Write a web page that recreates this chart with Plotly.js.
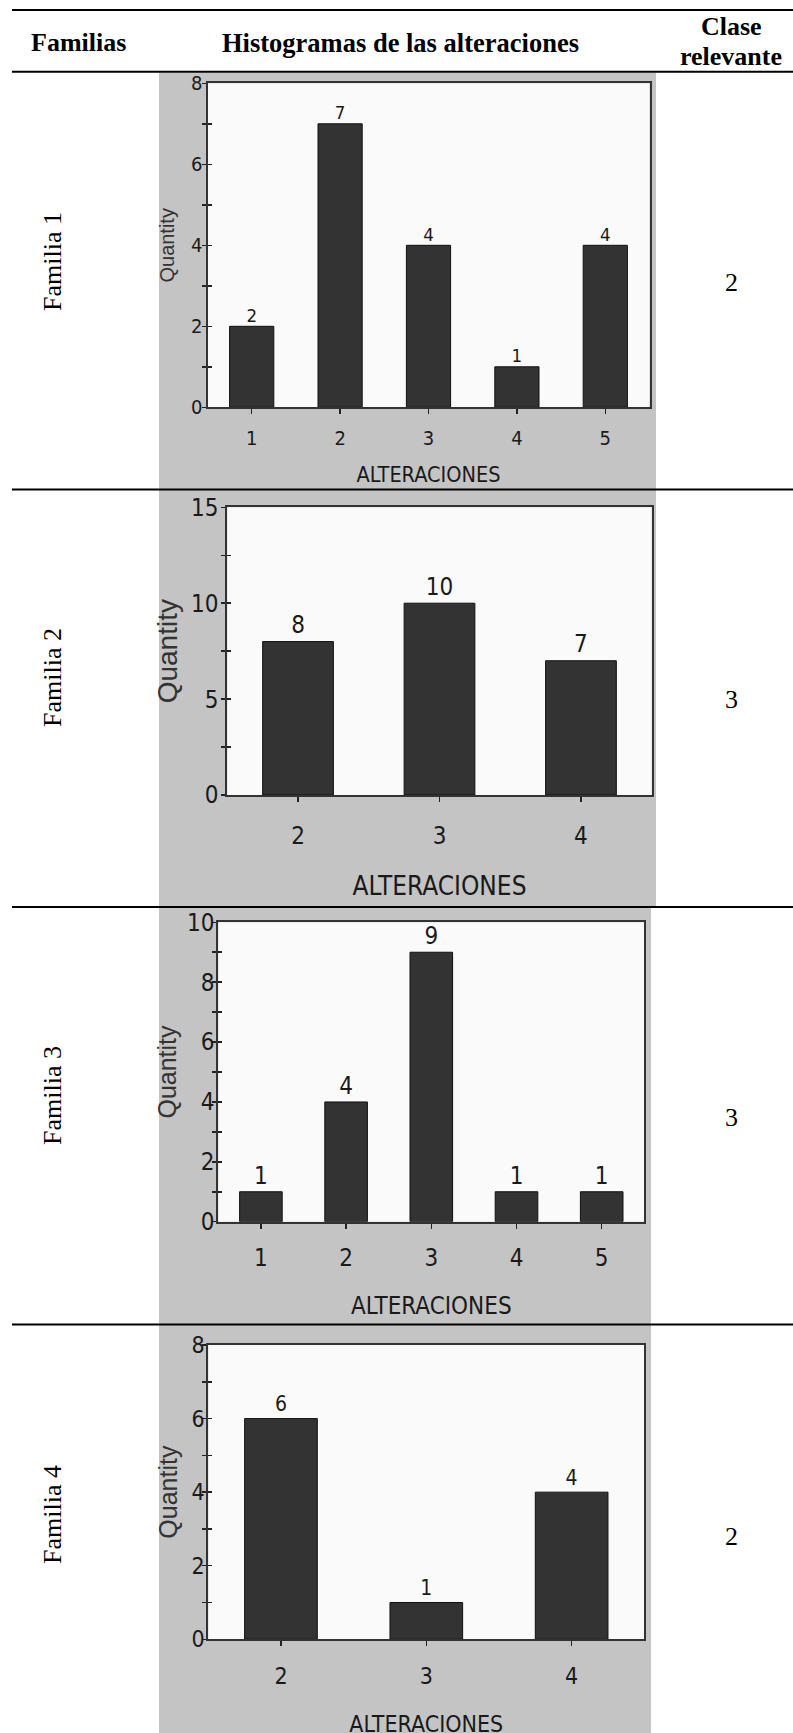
<!DOCTYPE html>
<html><head><meta charset="utf-8">
<script src="https://cdn.plot.ly/plotly-3.0.1.min.js"></script>
<style>html,body{margin:0;padding:0;background:#fff}</style>
</head><body><div style="width:793px;height:1733px;overflow:hidden;position:relative"><div id="chart" style="width:793px;height:1760px"></div></div>
<script>
// ---- data ----
const familias = ['Familia 1', 'Familia 2', 'Familia 3', 'Familia 4'];
const claseRelevante = ['2', '3', '3', '2'];
const alt1 = [1, 2, 3, 4, 5]; const qty1 = [2, 7, 4, 1, 4];
const alt2 = [2, 3, 4];       const qty2 = [8, 10, 7];
const alt3 = [1, 2, 3, 4, 5]; const qty3 = [1, 4, 9, 1, 1];
const alt4 = [2, 3, 4];       const qty4 = [6, 1, 4];
const headerFamilias = 'Familias';
const headerHist = 'Histogramas de las alteraciones';
const headerClase = ['Clase', 'relevante'];
const xTitle = 'ALTERACIONES';
const yTitle = 'Quantity';

// ---- geometry & styles (pixels) ----
const W = 793, HF = 1760;
const px = v => v / W;
const py = v => 1 - v / HF;
const NARROW = "'Liberation Sans Narrow','Arial Narrow','DejaVu Sans Condensed','Liberation Sans',Arial,sans-serif";
const SANS = "'Liberation Sans',Arial,sans-serif";
const SERIF = "'Liberation Serif','Times New Roman',Times,serif";

const series = [{x: alt1, y: qty1}, {x: alt2, y: qty2}, {x: alt3, y: qty3}, {x: alt4, y: qty4}];
const geom = [
  {plot: [207.5, 649.5, 83.3, 407.3], gray: [159, 656, 72.5, 490], yr: [0, 8], dt: 2, mn: 1, xr: [0.5, 5.5],
   tf: 20, vf: 18.5, xf: 21.5, yf: 20, xls: 7, yls: -5, xts: 18, yts: 10.7, ms: 0, famY: 262, claseY: 283},
  {plot: [227.3, 651.7, 507.3, 795], gray: [159, 656, 490, 908], yr: [0, 15], dt: 5, mn: 2.5, xr: [1.5, 4.5],
   tf: 24, vf: 24, xf: 26, yf: 28, xls: 13, yls: -2, xts: 28, yts: 4.8, ms: 2, famY: 678, claseY: 699},
  {plot: [218.3, 644.3, 922.3, 1221.7], gray: [159, 651, 907, 1328], yr: [0, 10], dt: 2, mn: 1, xr: [0.5, 5.5],
   tf: 24, vf: 24, xf: 24, yf: 25, xls: 8, yls: -7, xts: 27, yts: 3.7, ms: 2, famY: 1096, claseY: 1117},
  {plot: [208.3, 644.3, 1345, 1639.3], gray: [159, 651, 1324, 1760], yr: [0, 8], dt: 2, mn: 1, xr: [1.5, 4.5],
   tf: 23, vf: 21, xf: 23, yf: 25, xls: 10, yls: -7, xts: 28, yts: 7.2, ms: 2, famY: 1515, claseY: 1536}
];

const traces = [];
const layout = {
  width: W, height: HF, autosize: false,
  margin: {l: 0, r: 0, t: 0, b: 0, pad: 0},
  paper_bgcolor: '#ffffff', plot_bgcolor: 'rgba(0,0,0,0)',
  showlegend: false, bargap: 0,
  shapes: [], annotations: []
};

series.forEach((s, i) => {
  const g = geom[i];
  const n = i + 1;
  const xid = n === 1 ? 'x' : 'x' + n, yid = n === 1 ? 'y' : 'y' + n;
  const xa = n === 1 ? 'xaxis' : 'xaxis' + n, ya = n === 1 ? 'yaxis' : 'yaxis' + n;
  const yInId = 'y' + (n + 4), yInName = 'yaxis' + (n + 4);
  traces.push({
    type: 'bar', x: s.x, y: s.y, xaxis: xid, yaxis: yid,
    width: 0.5,
    marker: {color: '#333333', line: {color: '#111111', width: 1}},
    hoverinfo: 'skip'
  });
  traces.push({
    type: 'scatter', mode: g.ms > 0 ? 'markers+text' : 'text', x: s.x, y: s.y, xaxis: xid, yaxis: yid,
    text: s.y.map(String), textposition: 'top center', cliponaxis: false,
    marker: {size: g.ms > 0 ? g.ms : 1, color: 'rgba(0,0,0,0)'},
    textfont: {family: NARROW, size: g.vf, color: '#1a1a1a'},
    hoverinfo: 'skip'
  });
  // invisible trace carrying the inner tick marks axis
  traces.push({
    type: 'scatter', mode: 'none', x: s.x, y: s.y, xaxis: xid, yaxis: yInId, hoverinfo: 'skip'
  });
  layout[xa] = {
    domain: [px(g.plot[0]), px(g.plot[1])], anchor: yid,
    range: g.xr, tickmode: 'array', tickvals: s.x, ticktext: s.x.map(String),
    ticks: 'outside', ticklen: 5, tickwidth: 1.5, tickcolor: '#222',
    ticklabelstandoff: g.xls,
    showline: true, mirror: true, linecolor: '#333', linewidth: 2,
    showgrid: false, zeroline: false, fixedrange: true,
    tickfont: {family: NARROW, size: g.tf, color: '#1a1a1a'},
    title: {text: xTitle, standoff: g.xts, font: {family: NARROW, size: g.xf, color: '#1a1a1a'}}
  };
  layout[ya] = {
    domain: [py(g.plot[3]), py(g.plot[2])], anchor: xid,
    range: g.yr, tick0: 0, dtick: g.dt,
    ticks: 'outside', ticklen: 4, tickwidth: 1.5, tickcolor: '#222',
    minor: {dtick: g.mn, ticks: 'outside', ticklen: 4, tickwidth: 1.5, tickcolor: '#222', showgrid: false},
    ticklabelstandoff: g.yls,
    showline: true, mirror: true, linecolor: '#333', linewidth: 2,
    showgrid: false, zeroline: false, fixedrange: true,
    tickfont: {family: NARROW, size: g.tf, color: '#1a1a1a'},
    title: {text: yTitle, standoff: g.yts, font: {family: SANS, size: g.yf, color: '#333'}}
  };
  layout[yInName] = {
    overlaying: yid, anchor: xid, side: 'left',
    range: g.yr, tick0: 0, dtick: g.dt,
    ticks: 'inside', ticklen: 4, tickwidth: 1.5, tickcolor: '#222',
    minor: {dtick: g.mn, ticks: 'inside', ticklen: 4, tickwidth: 1.5, tickcolor: '#222', showgrid: false},
    showticklabels: false, showline: false, showgrid: false, zeroline: false, fixedrange: true
  };
  layout.shapes.push({type: 'rect', xref: 'paper', yref: 'paper', layer: 'below',
    x0: px(g.gray[0]), x1: px(g.gray[1]), y0: py(g.gray[3]), y1: py(g.gray[2]),
    fillcolor: '#c4c4c4', line: {width: 0}});
  layout.shapes.push({type: 'rect', xref: 'paper', yref: 'paper', layer: 'below',
    x0: px(g.plot[0]), x1: px(g.plot[1]), y0: py(g.plot[3]), y1: py(g.plot[2]),
    fillcolor: '#fafafa', line: {width: 0}});
  layout.annotations.push({xref: 'paper', yref: 'paper', x: px(52), y: py(g.famY),
    text: familias[i], textangle: -90, showarrow: false, xanchor: 'center', yanchor: 'middle',
    font: {family: SERIF, size: 26, color: '#000'}});
  layout.annotations.push({xref: 'paper', yref: 'paper', x: px(731), y: py(g.claseY),
    text: claseRelevante[i], showarrow: false, xanchor: 'center', yanchor: 'middle',
    font: {family: SERIF, size: 26, color: '#000'}});
});

// table rules
[[10, 2], [71.7, 2], [489.5, 2], [907, 2], [1324.5, 2]].forEach(([y, w]) => {
  layout.shapes.push({type: 'line', xref: 'paper', yref: 'paper', layer: 'above',
    x0: px(12), x1: 1, y0: py(y), y1: py(y), line: {color: '#000', width: w}});
});

// header
const hdrFont = {family: SERIF, size: 26, color: '#000'};
layout.annotations.push({xref: 'paper', yref: 'paper', x: px(78.7), y: py(42.3),
  text: '<b>' + headerFamilias + '</b>', showarrow: false, xanchor: 'center', yanchor: 'middle', font: hdrFont});
layout.annotations.push({xref: 'paper', yref: 'paper', x: px(400), y: py(42.8),
  text: '<b>' + headerHist + '</b>', showarrow: false, xanchor: 'center', yanchor: 'middle',
  font: {family: SERIF, size: 26.5, color: '#000'}});
layout.annotations.push({xref: 'paper', yref: 'paper', x: px(731.7), y: py(26.3),
  text: '<b>' + headerClase[0] + '</b>', showarrow: false, xanchor: 'center', yanchor: 'middle', font: hdrFont});
layout.annotations.push({xref: 'paper', yref: 'paper', x: px(731), y: py(56.2),
  text: '<b>' + headerClase[1] + '</b>', showarrow: false, xanchor: 'center', yanchor: 'middle', font: hdrFont});

Plotly.newPlot('chart', traces, layout, {displayModeBar: false, staticPlot: true});
</script>
</body></html>
